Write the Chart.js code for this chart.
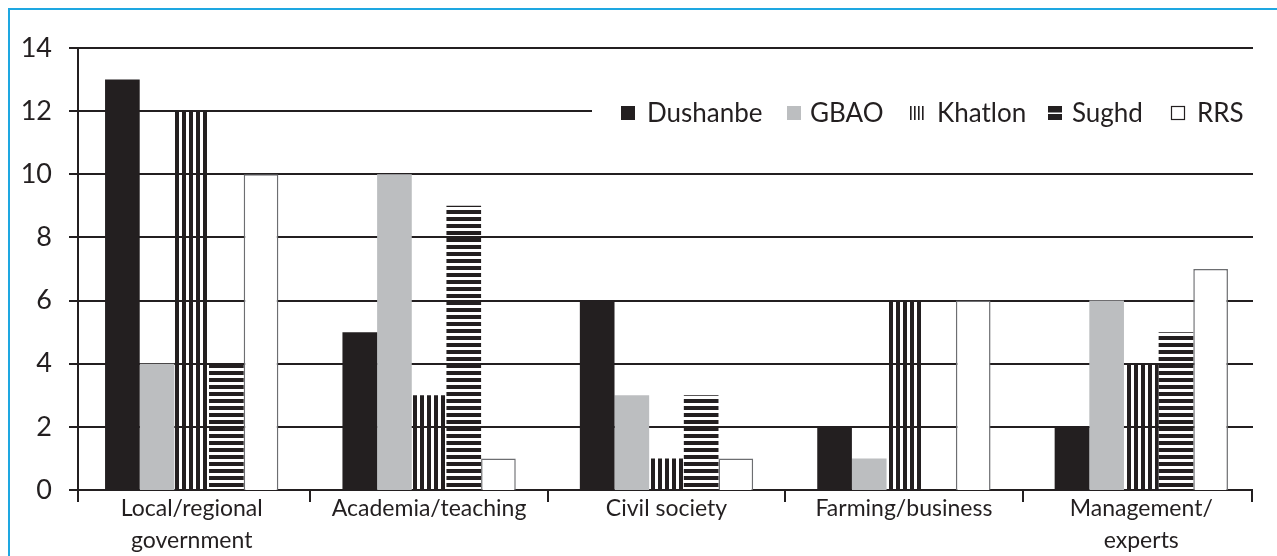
<!DOCTYPE html>
<html>
<head>
<meta charset="utf-8">
<script src="https://cdn.jsdelivr.net/npm/chart.js@4/dist/chart.umd.min.js"></script>
<style>
  html, body { margin: 0; padding: 0; background: #fff; overflow: hidden; }
  #wrap { position: relative; width: 1277px; height: 556px; }
  #frame { position: absolute; left: 8px; top: 8px; width: 1300px; height: 600px;
           border: 2px solid #1ea7e1; box-sizing: border-box; pointer-events: none; }
</style>
</head>
<body>
<div id="wrap">
  <canvas id="bar-chart" width="1277" height="556"></canvas>
  <div id="frame"></div>
</div>
<script>
var categories = [["Local/regional", "government"], "Academia/teaching", "Civil society", "Farming/business", ["Management/", "experts"]];
var seriesNames = ["Dushanbe", "GBAO", "Khatlon", "Sughd", "RRS"];
var dushanbe = [13, 5, 6, 2, 2];
var gbao = [4, 10, 3, 1, 6];
var khatlon = [12, 3, 1, 6, 4];
var sughd = [4, 9, 3, 0, 5];
var rrs = [10, 1, 1, 6, 7];
var yTicks = [0, 2, 4, 6, 8, 10, 12, 14];

var ink = "#231f20";
var grey = "#bcbec0";
var font = "Lato, 'Open Sans', sans-serif";
var axisLeft = 78, axisRight = 1253;

function stripes(vertical) {
  var c = document.createElement("canvas");
  c.width = vertical ? 7 : 1;
  c.height = vertical ? 1 : 7;
  var ctx = c.getContext("2d");
  ctx.fillStyle = ink;
  if (vertical) ctx.fillRect(0, 0, 4, 1);
  else ctx.fillRect(0, 0, 1, 4);
  return ctx.createPattern(c, "repeat");
}

var vPattern = stripes(true);
var hPattern = stripes(false);

// axes and gridlines (drawn to the original plot frame), legend box
var framePlugin = {
  id: "frame",
  beforeDatasetsDraw: function (chart) {
    var ctx = chart.ctx;
    var y = chart.scales.y, x = chart.scales.x;
    ctx.save();
    ctx.strokeStyle = ink;
    ctx.lineWidth = 2;
    yTicks.forEach(function (v) {
      var py = Math.round(y.getPixelForValue(v));
      ctx.beginPath();
      ctx.moveTo(axisLeft - 9, py);
      ctx.lineTo(axisRight, py);
      ctx.stroke();
    });
    var bottom = Math.round(y.getPixelForValue(0));
    ctx.beginPath();
    ctx.moveTo(axisLeft, Math.round(y.getPixelForValue(14)));
    ctx.lineTo(axisLeft, bottom + 10);
    ctx.stroke();
    // category boundary ticks below the axis
    var n = categories.length;
    var bounds = [axisLeft];
    for (var i = 0; i < n - 1; i++) {
      bounds.push((x.getPixelForTick(i) + x.getPixelForTick(i + 1)) / 2);
    }
    bounds.push(axisRight - 1);
    bounds.forEach(function (bx) {
      ctx.beginPath();
      ctx.moveTo(Math.round(bx), bottom);
      ctx.lineTo(Math.round(bx), bottom + 12);
      ctx.stroke();
    });
    ctx.fillStyle = "#fff";
    ctx.fillRect(592, 98, axisRight - 592 + 2, 28);
    ctx.restore();
  },
  afterDraw: function (chart) {
    var ctx = chart.ctx;
    var y = 113;
    var items = [
      { x: 621, tx: 647, kind: "solid", color: ink },
      { x: 787, tx: 810, kind: "solid", color: grey },
      { x: 910, tx: 937, kind: "v" },
      { x: 1048, tx: 1072, kind: "h" },
      { x: 1171, tx: 1197, kind: "open" }
    ];
    ctx.save();
    ctx.font = "26px " + font;
    ctx.textBaseline = "middle";
    items.forEach(function (it, i) {
      var top = y - 7, w = 14, h = 14;
      if (it.kind === "solid") {
        ctx.fillStyle = it.color;
        ctx.fillRect(it.x, top, w, h);
      } else if (it.kind === "v") {
        ctx.fillStyle = ink;
        for (var k = 0; k < 4; k++) ctx.fillRect(it.x + k * 4, top, 1.6, h);
      } else if (it.kind === "h") {
        ctx.fillStyle = ink;
        ctx.fillRect(it.x, top, w, h);
        ctx.fillStyle = "#fff";
        ctx.fillRect(it.x, top + 6.5, w, 1.5);
      } else {
        ctx.strokeStyle = ink;
        ctx.lineWidth = 1.2;
        ctx.strokeRect(it.x + 0.5, top + 0.5, w - 1, h - 1);
      }
      ctx.fillStyle = ink;
      ctx.fillText(seriesNames[i], it.tx, y + 1);
    });
    ctx.restore();
  }
};

var chart = new Chart(document.getElementById("bar-chart"), {
  type: "bar",
  data: {
    labels: categories,
    datasets: [
      { label: seriesNames[0], data: dushanbe, backgroundColor: ink },
      { label: seriesNames[1], data: gbao, backgroundColor: grey },
      { label: seriesNames[2], data: khatlon, backgroundColor: vPattern },
      { label: seriesNames[3], data: sughd, backgroundColor: hPattern },
      { label: seriesNames[4], data: rrs, backgroundColor: "#fff", borderColor: "#6d6e71", borderWidth: 1.5 }
    ]
  },
  options: {
    responsive: false,
    animation: false,
    layout: { padding: { top: 48, right: 17, bottom: 0, left: 0 } },
    datasets: { bar: { categoryPercentage: 0.73, barPercentage: 1.0 } },
    plugins: { legend: { display: false }, tooltip: { enabled: false } },
    scales: {
      x: {
        grid: { display: false },
        border: { display: false },
        ticks: { color: ink, font: { family: font, size: 23, lineHeight: 1.39 }, padding: -5, maxRotation: 0, autoSkip: false },
        afterFit: function (scale) { scale.height = 66; }
      },
      y: {
        min: 0,
        max: 14,
        afterBuildTicks: function (scale) { scale.ticks = yTicks.map(function (v) { return { value: v }; }); },
        grid: { display: false },
        border: { display: false },
        ticks: { color: ink, font: { family: font, size: 27 }, padding: 13 },
        afterFit: function (scale) { scale.width = 73; }
      }
    }
  },
  plugins: [framePlugin]
});
</script>
</body>
</html>
